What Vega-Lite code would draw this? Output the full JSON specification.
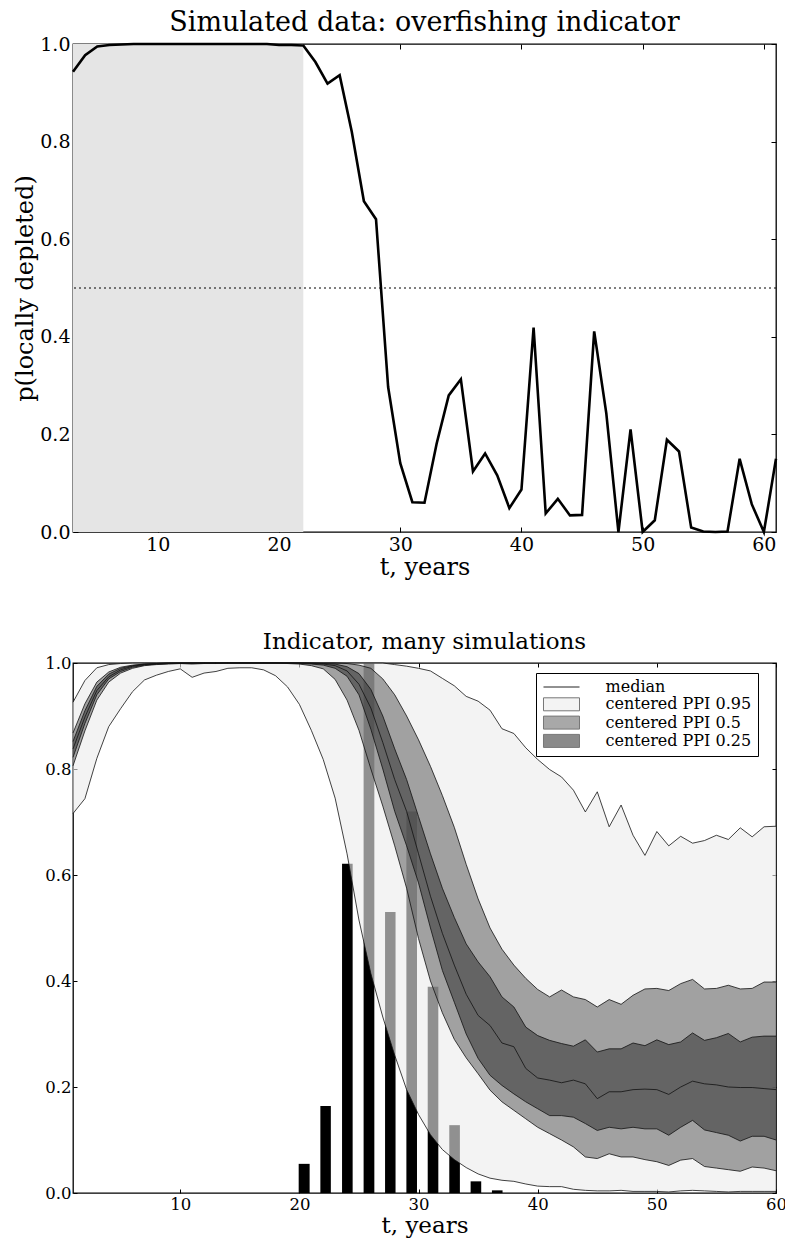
{
  "$schema": "https://vega.github.io/schema/vega-lite/v6.json",
  "padding": {"left": 13, "top": 8, "right": 0, "bottom": 4},
  "background": "white",
  "spacing": 49,
  "resolve": {"legend": {"fill": "independent", "shape": "independent", "stroke": "independent"}},
  "config": {
    "font": "DejaVu Serif",
    "view": {"stroke": "black", "strokeWidth": 1.3},
    "axis": {
      "grid": false, "domain": false,
      "tickColor": "black", "tickSize": -5, "tickWidth": 1,
      "labelColor": "black", "titleColor": "black",
      "labelFont": "DejaVu Serif", "titleFont": "DejaVu Serif", "titleFontWeight": "normal"
    },
    "legend": {
      "title": null, "orient": "none", "legendX": 463, "legendY": 10,
      "fillColor": "white", "strokeColor": "black", "padding": 6,
      "labelFont": "DejaVu Serif", "labelFontSize": 16, "labelColor": "black",
      "symbolSize": 169, "symbolOffset": 11.5, "labelOffset": 36, "rowPadding": 0.3,
      "symbolOpacity": 1, "symbolStrokeWidth": 1
    },
    "title": {"font": "DejaVu Serif", "fontWeight": "normal", "color": "black"}
  },
  "datasets": {
    "shade": [{"start": 3, "end": 22}],
    "thresh": [{"p": 0.5}],
    "keys": [
      {"band": "median"}, {"band": "centered PPI 0.95"}, {"band": "centered PPI 0.5"}, {"band": "centered PPI 0.25"}
    ],
    "top": [
      {"t": 3, "p": 0.943}, {"t": 4, "p": 0.977}, {"t": 5, "p": 0.995}, {"t": 6, "p": 0.998},
      {"t": 7, "p": 0.999}, {"t": 8, "p": 1.0}, {"t": 9, "p": 1.0}, {"t": 10, "p": 1.0},
      {"t": 11, "p": 1.0}, {"t": 12, "p": 1.0}, {"t": 13, "p": 1.0}, {"t": 14, "p": 1.0},
      {"t": 15, "p": 1.0}, {"t": 16, "p": 1.0}, {"t": 17, "p": 1.0}, {"t": 18, "p": 1.0},
      {"t": 19, "p": 1.0}, {"t": 20, "p": 0.998}, {"t": 21, "p": 0.998}, {"t": 22, "p": 0.997},
      {"t": 23, "p": 0.963}, {"t": 24, "p": 0.919}, {"t": 25, "p": 0.936}, {"t": 26, "p": 0.82},
      {"t": 27, "p": 0.678}, {"t": 28, "p": 0.641}, {"t": 29, "p": 0.297}, {"t": 30, "p": 0.141},
      {"t": 31, "p": 0.061}, {"t": 32, "p": 0.06}, {"t": 33, "p": 0.181}, {"t": 34, "p": 0.28},
      {"t": 35, "p": 0.313}, {"t": 36, "p": 0.124}, {"t": 37, "p": 0.161}, {"t": 38, "p": 0.116},
      {"t": 39, "p": 0.049}, {"t": 40, "p": 0.087}, {"t": 41, "p": 0.419}, {"t": 42, "p": 0.038},
      {"t": 43, "p": 0.068}, {"t": 44, "p": 0.034}, {"t": 45, "p": 0.035}, {"t": 46, "p": 0.411},
      {"t": 47, "p": 0.243}, {"t": 48, "p": 0.0}, {"t": 49, "p": 0.21}, {"t": 50, "p": 0.0},
      {"t": 51, "p": 0.024}, {"t": 52, "p": 0.189}, {"t": 53, "p": 0.165}, {"t": 54, "p": 0.009},
      {"t": 55, "p": 0.001}, {"t": 56, "p": 0.0}, {"t": 57, "p": 0.001}, {"t": 58, "p": 0.15},
      {"t": 59, "p": 0.057}, {"t": 60, "p": 0.0}, {"t": 61, "p": 0.15}
    ],
    "hist": [
      {"b0": 19.94, "b1": 20.86, "h": 0.055},
      {"b0": 21.76, "b1": 22.64, "h": 0.164},
      {"b0": 23.58, "b1": 24.47, "h": 0.621},
      {"b0": 25.39, "b1": 26.29, "h": 1.0},
      {"b0": 27.19, "b1": 28.07, "h": 0.53},
      {"b0": 28.98, "b1": 29.87, "h": 0.72},
      {"b0": 30.77, "b1": 31.66, "h": 0.389},
      {"b0": 32.58, "b1": 33.47, "h": 0.128},
      {"b0": 34.37, "b1": 35.26, "h": 0.022},
      {"b0": 36.16, "b1": 37.05, "h": 0.005}
    ],
    "sim": [
      {"t": 1, "lo95": 0.716, "lo50": 0.806, "lo25": 0.822, "med": 0.838, "hi25": 0.852, "hi50": 0.868, "hi95": 0.926},
      {"t": 2, "lo95": 0.744, "lo50": 0.872, "lo25": 0.886, "med": 0.898, "hi25": 0.91, "hi50": 0.923, "hi95": 0.967},
      {"t": 3, "lo95": 0.82, "lo50": 0.93, "lo25": 0.94, "med": 0.948, "hi25": 0.956, "hi50": 0.964, "hi95": 0.991},
      {"t": 4, "lo95": 0.88, "lo50": 0.964, "lo25": 0.97, "med": 0.974, "hi25": 0.979, "hi50": 0.983, "hi95": 0.997},
      {"t": 5, "lo95": 0.914, "lo50": 0.981, "lo25": 0.984, "med": 0.987, "hi25": 0.99, "hi50": 0.992, "hi95": 0.999},
      {"t": 6, "lo95": 0.946, "lo50": 0.99, "lo25": 0.992, "med": 0.994, "hi25": 0.995, "hi50": 0.996, "hi95": 1.0},
      {"t": 7, "lo95": 0.968, "lo50": 0.995, "lo25": 0.996, "med": 0.997, "hi25": 0.998, "hi50": 0.998, "hi95": 1.0},
      {"t": 8, "lo95": 0.977, "lo50": 0.997, "lo25": 0.998, "med": 0.998, "hi25": 0.999, "hi50": 0.999, "hi95": 1.0},
      {"t": 9, "lo95": 0.984, "lo50": 0.998, "lo25": 0.999, "med": 0.999, "hi25": 1.0, "hi50": 1.0, "hi95": 1.0},
      {"t": 10, "lo95": 0.989, "lo50": 0.999, "lo25": 0.999, "med": 1.0, "hi25": 1.0, "hi50": 1.0, "hi95": 1.0},
      {"t": 11, "lo95": 0.973, "lo50": 0.998, "lo25": 0.999, "med": 1.0, "hi25": 1.0, "hi50": 1.0, "hi95": 1.0},
      {"t": 12, "lo95": 0.981, "lo50": 0.999, "lo25": 1.0, "med": 1.0, "hi25": 1.0, "hi50": 1.0, "hi95": 1.0},
      {"t": 13, "lo95": 0.984, "lo50": 0.999, "lo25": 1.0, "med": 1.0, "hi25": 1.0, "hi50": 1.0, "hi95": 1.0},
      {"t": 14, "lo95": 0.99, "lo50": 1.0, "lo25": 1.0, "med": 1.0, "hi25": 1.0, "hi50": 1.0, "hi95": 1.0},
      {"t": 15, "lo95": 0.991, "lo50": 1.0, "lo25": 1.0, "med": 1.0, "hi25": 1.0, "hi50": 1.0, "hi95": 1.0},
      {"t": 16, "lo95": 0.991, "lo50": 1.0, "lo25": 1.0, "med": 1.0, "hi25": 1.0, "hi50": 1.0, "hi95": 1.0},
      {"t": 17, "lo95": 0.987, "lo50": 1.0, "lo25": 1.0, "med": 1.0, "hi25": 1.0, "hi50": 1.0, "hi95": 1.0},
      {"t": 18, "lo95": 0.976, "lo50": 1.0, "lo25": 1.0, "med": 1.0, "hi25": 1.0, "hi50": 1.0, "hi95": 1.0},
      {"t": 19, "lo95": 0.955, "lo50": 0.999, "lo25": 1.0, "med": 1.0, "hi25": 1.0, "hi50": 1.0, "hi95": 1.0},
      {"t": 20, "lo95": 0.922, "lo50": 0.998, "lo25": 0.999, "med": 1.0, "hi25": 1.0, "hi50": 1.0, "hi95": 1.0},
      {"t": 21, "lo95": 0.873, "lo50": 0.995, "lo25": 0.998, "med": 0.999, "hi25": 1.0, "hi50": 1.0, "hi95": 1.0},
      {"t": 22, "lo95": 0.818, "lo50": 0.989, "lo25": 0.996, "med": 0.998, "hi25": 0.999, "hi50": 1.0, "hi95": 1.0},
      {"t": 23, "lo95": 0.745, "lo50": 0.969, "lo25": 0.99, "med": 0.995, "hi25": 0.998, "hi50": 1.0, "hi95": 1.0},
      {"t": 24, "lo95": 0.64, "lo50": 0.93, "lo25": 0.975, "med": 0.985, "hi25": 0.993, "hi50": 0.999, "hi95": 1.0},
      {"t": 25, "lo95": 0.515, "lo50": 0.873, "lo25": 0.94, "med": 0.96, "hi25": 0.98, "hi50": 0.996, "hi95": 1.0},
      {"t": 26, "lo95": 0.414, "lo50": 0.8, "lo25": 0.875, "med": 0.915, "hi25": 0.95, "hi50": 0.99, "hi95": 1.0},
      {"t": 27, "lo95": 0.332, "lo50": 0.73, "lo25": 0.8, "med": 0.85, "hi25": 0.9, "hi50": 0.97, "hi95": 1.0},
      {"t": 28, "lo95": 0.26, "lo50": 0.655, "lo25": 0.72, "med": 0.78, "hi25": 0.838, "hi50": 0.94, "hi95": 0.997},
      {"t": 29, "lo95": 0.195, "lo50": 0.575, "lo25": 0.655, "med": 0.72, "hi25": 0.78, "hi50": 0.9, "hi95": 0.994},
      {"t": 30, "lo95": 0.148, "lo50": 0.48, "lo25": 0.585, "med": 0.64, "hi25": 0.71, "hi50": 0.855, "hi95": 0.99},
      {"t": 31, "lo95": 0.11, "lo50": 0.4, "lo25": 0.5, "med": 0.56, "hi25": 0.64, "hi50": 0.805, "hi95": 0.985},
      {"t": 32, "lo95": 0.082, "lo50": 0.34, "lo25": 0.42, "med": 0.49, "hi25": 0.575, "hi50": 0.75, "hi95": 0.971},
      {"t": 33, "lo95": 0.063, "lo50": 0.29, "lo25": 0.36, "med": 0.43, "hi25": 0.52, "hi50": 0.69, "hi95": 0.957},
      {"t": 34, "lo95": 0.048, "lo50": 0.255, "lo25": 0.3, "med": 0.375, "hi25": 0.47, "hi50": 0.62, "hi95": 0.937},
      {"t": 35, "lo95": 0.036, "lo50": 0.225, "lo25": 0.254, "med": 0.335, "hi25": 0.436, "hi50": 0.555, "hi95": 0.928},
      {"t": 36, "lo95": 0.028, "lo50": 0.194, "lo25": 0.222, "med": 0.316, "hi25": 0.408, "hi50": 0.5, "hi95": 0.911},
      {"t": 37, "lo95": 0.024, "lo50": 0.172, "lo25": 0.203, "med": 0.283, "hi25": 0.37, "hi50": 0.46, "hi95": 0.876},
      {"t": 38, "lo95": 0.022, "lo50": 0.156, "lo25": 0.187, "med": 0.276, "hi25": 0.351, "hi50": 0.43, "hi95": 0.867},
      {"t": 39, "lo95": 0.017, "lo50": 0.14, "lo25": 0.172, "med": 0.235, "hi25": 0.313, "hi50": 0.405, "hi95": 0.84},
      {"t": 40, "lo95": 0.013, "lo50": 0.124, "lo25": 0.159, "med": 0.217, "hi25": 0.297, "hi50": 0.384, "hi95": 0.818},
      {"t": 41, "lo95": 0.012, "lo50": 0.112, "lo25": 0.146, "med": 0.213, "hi25": 0.288, "hi50": 0.37, "hi95": 0.799},
      {"t": 42, "lo95": 0.012, "lo50": 0.1, "lo25": 0.146, "med": 0.208, "hi25": 0.282, "hi50": 0.383, "hi95": 0.785},
      {"t": 43, "lo95": 0.007, "lo50": 0.087, "lo25": 0.143, "med": 0.213, "hi25": 0.277, "hi50": 0.37, "hi95": 0.76},
      {"t": 44, "lo95": 0.005, "lo50": 0.068, "lo25": 0.131, "med": 0.206, "hi25": 0.289, "hi50": 0.365, "hi95": 0.719},
      {"t": 45, "lo95": 0.004, "lo50": 0.065, "lo25": 0.118, "med": 0.178, "hi25": 0.266, "hi50": 0.351, "hi95": 0.757},
      {"t": 46, "lo95": 0.004, "lo50": 0.074, "lo25": 0.124, "med": 0.191, "hi25": 0.272, "hi50": 0.365, "hi95": 0.691},
      {"t": 47, "lo95": 0.005, "lo50": 0.068, "lo25": 0.121, "med": 0.191, "hi25": 0.272, "hi50": 0.356, "hi95": 0.732},
      {"t": 48, "lo95": 0.003, "lo50": 0.068, "lo25": 0.124, "med": 0.195, "hi25": 0.283, "hi50": 0.373, "hi95": 0.675},
      {"t": 49, "lo95": 0.003, "lo50": 0.063, "lo25": 0.121, "med": 0.196, "hi25": 0.278, "hi50": 0.385, "hi95": 0.637},
      {"t": 50, "lo95": 0.003, "lo50": 0.059, "lo25": 0.121, "med": 0.195, "hi25": 0.289, "hi50": 0.386, "hi95": 0.682},
      {"t": 51, "lo95": 0.002, "lo50": 0.052, "lo25": 0.109, "med": 0.186, "hi25": 0.28, "hi50": 0.382, "hi95": 0.655},
      {"t": 52, "lo95": 0.004, "lo50": 0.062, "lo25": 0.124, "med": 0.2, "hi25": 0.285, "hi50": 0.395, "hi95": 0.673},
      {"t": 53, "lo95": 0.005, "lo50": 0.065, "lo25": 0.137, "med": 0.211, "hi25": 0.302, "hi50": 0.403, "hi95": 0.66},
      {"t": 54, "lo95": 0.004, "lo50": 0.05, "lo25": 0.119, "med": 0.206, "hi25": 0.288, "hi50": 0.385, "hi95": 0.665},
      {"t": 55, "lo95": 0.003, "lo50": 0.047, "lo25": 0.114, "med": 0.204, "hi25": 0.293, "hi50": 0.386, "hi95": 0.675},
      {"t": 56, "lo95": 0.002, "lo50": 0.044, "lo25": 0.109, "med": 0.2, "hi25": 0.301, "hi50": 0.392, "hi95": 0.667},
      {"t": 57, "lo95": 0.003, "lo50": 0.041, "lo25": 0.098, "med": 0.199, "hi25": 0.285, "hi50": 0.385, "hi95": 0.689},
      {"t": 58, "lo95": 0.003, "lo50": 0.049, "lo25": 0.107, "med": 0.199, "hi25": 0.294, "hi50": 0.386, "hi95": 0.672},
      {"t": 59, "lo95": 0.003, "lo50": 0.047, "lo25": 0.107, "med": 0.197, "hi25": 0.296, "hi50": 0.398, "hi95": 0.691},
      {"t": 60, "lo95": 0.003, "lo50": 0.042, "lo25": 0.1, "med": 0.195, "hi25": 0.296, "hi50": 0.398, "hi95": 0.692}
    ]
  },
  "vconcat": [
    {
      "width": 703,
      "height": 488,
      "title": {"text": "Simulated data: overfishing indicator", "fontSize": 27, "offset": -2},
      "resolve": {"axis": {"x": "independent", "y": "independent"}},
      "layer": [
        {
          "data": {"name": "shade"},
          "mark": {"type": "rect", "color": "#e5e5e5"},
          "encoding": {
            "x": {
              "field": "start", "type": "quantitative",
              "scale": {"domain": [3, 61], "nice": false, "zero": false},
              "axis": {"orient": "bottom", "values": [10, 20, 30, 40, 50, 60], "title": "t, years",
                       "labelFontSize": 19, "titleFontSize": 24, "labelPadding": 8, "titlePadding": 1, "labelFlush": false}
            },
            "x2": {"field": "end"},
            "y": {
              "datum": 0, "type": "quantitative",
              "scale": {"domain": [0, 1], "nice": false},
              "axis": {"orient": "left", "values": [0, 0.2, 0.4, 0.6, 0.8, 1], "format": ".1f",
                       "title": "p(locally depleted)", "labelFontSize": 19, "titleFontSize": 24,
                       "labelPadding": 8, "titlePadding": 2}
            },
            "y2": {"datum": 1}
          }
        },
        {
          "data": {"name": "thresh"},
          "mark": {"type": "rule", "strokeDash": [2, 3], "color": "black", "strokeWidth": 1},
          "encoding": {"y": {"field": "p", "type": "quantitative", "axis": null}}
        },
        {
          "data": {"name": "top"},
          "mark": {"type": "line", "color": "black", "strokeWidth": 2.6},
          "encoding": {
            "x": {"field": "t", "type": "quantitative",
                  "axis": {"orient": "top", "labels": false, "title": null, "values": [10, 20, 30, 40, 50, 60]}},
            "y": {"field": "p", "type": "quantitative",
                  "axis": {"orient": "right", "labels": false, "title": null, "values": [0, 0.2, 0.4, 0.6, 0.8, 1]}}
          }
        }
      ]
    },
    {
      "width": 703,
      "height": 530,
      "title": {"text": "Indicator, many simulations", "fontSize": 23, "offset": 1.5},
      "resolve": {"axis": {"x": "independent", "y": "independent"}},
      "layer": [
        {
          "data": {"name": "hist"},
          "mark": {"type": "rect", "color": "black"},
          "encoding": {
            "x": {
              "field": "b0", "type": "quantitative",
              "scale": {"domain": [1, 60], "nice": false, "zero": false},
              "axis": {"orient": "bottom", "values": [10, 20, 30, 40, 50, 60], "title": "t, years",
                       "labelFontSize": 16.5, "titleFontSize": 23, "labelPadding": 7, "titlePadding": 2, "tickSize": -4,
                       "labelFlush": false}
            },
            "x2": {"field": "b1"},
            "y": {
              "field": "h", "type": "quantitative",
              "scale": {"domain": [0, 1], "nice": false},
              "axis": {"orient": "left", "values": [0, 0.2, 0.4, 0.6, 0.8, 1], "format": ".1f", "title": null,
                       "labelFontSize": 16.5, "labelPadding": 6, "tickSize": -4}
            },
            "y2": {"datum": 0}
          }
        },
        {
          "data": {"name": "sim"},
          "mark": {"type": "area", "color": "#ebebeb", "opacity": 0.61},
          "encoding": {
            "x": {"field": "t", "type": "quantitative", "axis": null},
            "y": {"field": "lo95", "type": "quantitative", "axis": null},
            "y2": {"field": "hi95"}
          }
        },
        {
          "data": {"name": "sim"},
          "mark": {"type": "area", "color": "#6d6d6d", "opacity": 0.62},
          "encoding": {
            "x": {"field": "t", "type": "quantitative", "axis": null},
            "y": {"field": "lo50", "type": "quantitative", "axis": null},
            "y2": {"field": "hi50"}
          }
        },
        {
          "data": {"name": "sim"},
          "mark": {"type": "area", "color": "#3c3c3c", "opacity": 0.6},
          "encoding": {
            "x": {"field": "t", "type": "quantitative", "axis": null},
            "y": {"field": "lo25", "type": "quantitative", "axis": null},
            "y2": {"field": "hi25"}
          }
        },
        {
          "data": {"name": "sim"},
          "transform": [{"fold": ["lo95", "lo50", "lo25", "med", "hi25", "hi50", "hi95"], "as": ["q", "v"]}],
          "mark": {"type": "line", "color": "#111111", "strokeWidth": 0.8},
          "encoding": {
            "x": {"field": "t", "type": "quantitative",
                  "axis": {"orient": "top", "labels": false, "title": null, "tickSize": -4, "values": [10, 20, 30, 40, 50, 60]}},
            "y": {"field": "v", "type": "quantitative",
                  "axis": {"orient": "right", "labels": false, "title": null, "tickSize": -4, "values": [0, 0.2, 0.4, 0.6, 0.8, 1]}},
            "detail": {"field": "q"}
          }
        },
        {
          "data": {"name": "keys"},
          "mark": {"type": "point", "filled": true, "opacity": 0},
          "encoding": {
            "fill": {
              "field": "band", "type": "nominal",
              "scale": {"domain": ["median", "centered PPI 0.95", "centered PPI 0.5", "centered PPI 0.25"],
                        "range": ["transparent", "#f3f3f3", "#a8a8a8", "#8a8a8a"]}
            },
            "stroke": {
              "field": "band", "type": "nominal",
              "scale": {"domain": ["median", "centered PPI 0.95", "centered PPI 0.5", "centered PPI 0.25"],
                        "range": ["#222222", "#777777", "#777777", "#777777"]}
            },
            "shape": {
              "field": "band", "type": "nominal",
              "scale": {"domain": ["median", "centered PPI 0.95", "centered PPI 0.5", "centered PPI 0.25"],
                        "range": ["M-2.77,0H2.77", "M-2.77,-1H2.77V1H-2.77Z", "M-2.77,-1H2.77V1H-2.77Z", "M-2.77,-1H2.77V1H-2.77Z"]}
            }
          }
        }
      ]
    }
  ]
}
